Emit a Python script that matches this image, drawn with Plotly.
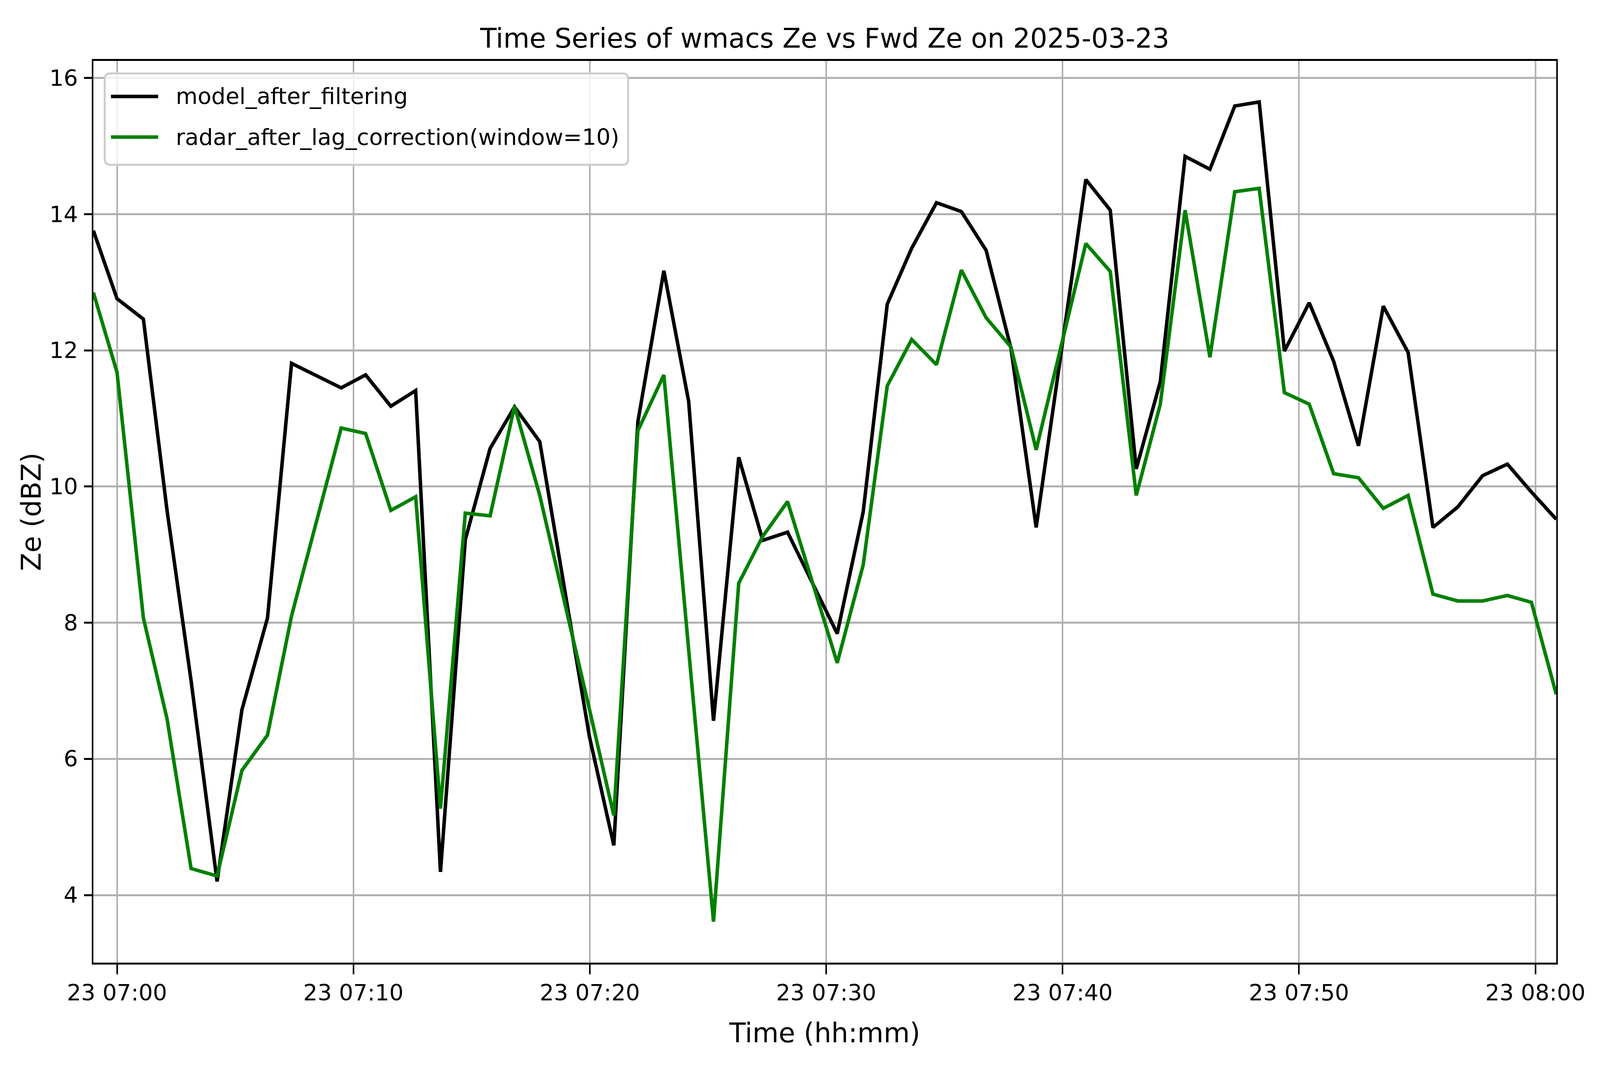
import plotly.graph_objects as go

# sample times on 2025-03-23 (a few samples missing in the record)
times = [
    "06:59:00", "07:00:00", "07:01:07", "07:02:07", "07:03:08", "07:04:14",
    "07:05:17", "07:06:22", "07:07:23", "07:09:29", "07:10:31", "07:11:35",
    "07:12:38", "07:13:41", "07:14:44", "07:15:47", "07:16:49", "07:17:53",
    "07:19:59", "07:21:01", "07:22:02", "07:23:08", "07:24:11", "07:25:14",
    "07:26:18", "07:27:19", "07:28:22", "07:30:28", "07:31:34", "07:32:35",
    "07:33:37", "07:34:40", "07:35:43", "07:36:46", "07:37:49", "07:38:53",
    "07:40:59", "07:42:01", "07:43:07", "07:44:08", "07:45:11", "07:46:14",
    "07:47:17", "07:48:19", "07:49:23", "07:50:26", "07:51:28", "07:52:31",
    "07:53:34", "07:54:37", "07:55:40", "07:56:43", "07:57:46", "07:58:49",
    "07:59:50", "08:00:53",
]

model_ze = [
    13.76, 12.76, 12.46, 9.65, 7.15, 4.20,
    6.72, 8.07, 11.81, 11.45, 11.64, 11.18,
    11.41, 4.34, 9.22, 10.56, 11.17, 10.66,
    6.33, 4.73, 10.95, 13.17, 11.25, 6.56,
    10.43, 9.21, 9.33, 7.84, 9.63, 12.68,
    13.50, 14.17, 14.04, 13.47, 12.03, 9.40,
    14.51, 14.06, 10.26, 11.54, 14.85, 14.66,
    15.59, 15.65, 11.99, 12.70, 11.84, 10.60,
    12.65, 11.97, 9.40, 9.70, 10.16, 10.33,
    9.92, 9.52,
]

radar_ze = [
    12.85, 11.68, 8.07, 6.59, 4.39, 4.28,
    5.83, 6.35, 8.10, 10.86, 10.78, 9.65,
    9.85, 5.27, 9.61, 9.57, 11.18, 9.87,
    6.73, 5.17, 10.82, 11.64, 7.60, 3.61,
    8.58, 9.27, 9.78, 7.41, 8.85, 11.48,
    12.16, 11.79, 13.18, 12.48, 12.05, 10.54,
    13.57, 13.16, 9.87, 11.21, 14.06, 11.90,
    14.33, 14.38, 11.38, 11.21, 10.19, 10.13,
    9.68, 9.87, 8.42, 8.32, 8.32, 8.40,
    8.30, 6.95,
]

labels = ["model_after_filtering", "radar_after_lag_correction(window=10)"]
colours = ["black", "green"]

day = "2025-03-23"
x = [day + " " + t for t in times]

# the browser page comes out 4096 css px wide and 2740 tall, so the
# reference layout is squeezed in x only (body keeps its 8px margin)
SX, SY, F = 4096 / 5083, 1.0, 0.82
BODY = 8
def pos_x(v):
    return v * SX - BODY
def pos_y(v):
    return v * SY - BODY

W, H = 4096 - 2 * BODY, 2740 - 2 * BODY
left, right, top, bottom = pos_x(296), pos_x(4944), pos_y(156), pos_y(2465)
FONT = "DejaVu Sans"

fig = go.Figure()
for ys, name, col in zip([model_ze, radar_ze], labels, colours):
    fig.add_trace(go.Scatter(x=x, y=ys, mode="lines", name=name,
                             line=dict(color=col, width=9)))

# y range like matplotlib's 5% margin
lo = min(min(model_ze), min(radar_ze))
hi = max(max(model_ze), max(radar_ze))
pad = 0.05 * (hi - lo)

tick_font = dict(family=FONT, size=70 * F, color="black")
label_font = dict(family=FONT, size=84 * F, color="black")

fig.update_layout(
    width=W, height=H, autosize=False,
    margin=dict(l=left, r=W - right, t=top, b=H - bottom, autoexpand=False),
    paper_bgcolor="white", plot_bgcolor="white",
    showlegend=False,
    font=dict(family=FONT, color="black"),
    title=dict(text="Time Series of wmacs Ze vs Fwd Ze on 2025-03-23",
               font=label_font,
               x=0.5, xref="paper", xanchor="center",
               y=1, yref="paper", yanchor="bottom", pad=dict(b=34)),
    xaxis=dict(type="date", range=[x[0], x[-1]],
               tick0=day + " 07:00:00", dtick=600000, tickformat="%d %H:%M",
               showline=True, linecolor="black", linewidth=5, mirror=True,
               ticks="outside", ticklen=25, tickwidth=4, tickcolor="black",
               showgrid=True, gridcolor="#b0b0b0", gridwidth=4, zeroline=False,
               tickfont=tick_font, ticklabelstandoff=-2,
               title=dict(text="Time (hh:mm)", standoff=47, font=label_font)),
    yaxis=dict(range=[lo - pad, hi + pad], tick0=0, dtick=2,
               showline=True, linecolor="black", linewidth=4, mirror=True,
               ticks="outside", ticklen=20, tickwidth=5, tickcolor="black",
               showgrid=True, gridcolor="#b0b0b0", gridwidth=5, zeroline=False,
               tickfont=tick_font, ticklabelstandoff=4,
               title=dict(text="Ze (dBZ)", standoff=0, font=label_font)),
)

# legend drawn by hand so the handles keep matplotlib's size
pw, ph = right - left, bottom - top
def px_x(v):
    return (pos_x(v) - left) / pw
def px_y(v):
    return (bottom - pos_y(v)) / ph

x0, x1 = px_x(332), px_x(1995)
y0, y1 = px_y(422), px_y(188)
rx, ry = 14 / pw, 16 / ph
box = (f"M {x0+rx},{y1} L {x1-rx},{y1} Q {x1},{y1} {x1},{y1-ry} "
       f"L {x1},{y0+ry} Q {x1},{y0} {x1-rx},{y0} L {x0+rx},{y0} "
       f"Q {x0},{y0} {x0},{y0+ry} L {x0},{y1-ry} Q {x0},{y1} {x0+rx},{y1} Z")
fig.add_shape(type="path", path=box, xref="paper", yref="paper", layer="above",
              fillcolor="rgba(255,255,255,0.8)", line=dict(color="#cccccc", width=5))

rows = [247, 351]
for name, col, ry_px in zip(labels, colours, rows):
    fig.add_shape(type="line", xref="paper", yref="paper", layer="above",
                  x0=px_x(352), x1=px_x(502), y0=px_y(ry_px), y1=px_y(ry_px),
                  line=dict(color=col, width=9))
    fig.add_annotation(text=name, xref="paper", yref="paper",
                       x=px_x(555), y=px_y(ry_px), xanchor="left", yanchor="middle",
                       showarrow=False, font=tick_font)

fig.write_html("out.html")
